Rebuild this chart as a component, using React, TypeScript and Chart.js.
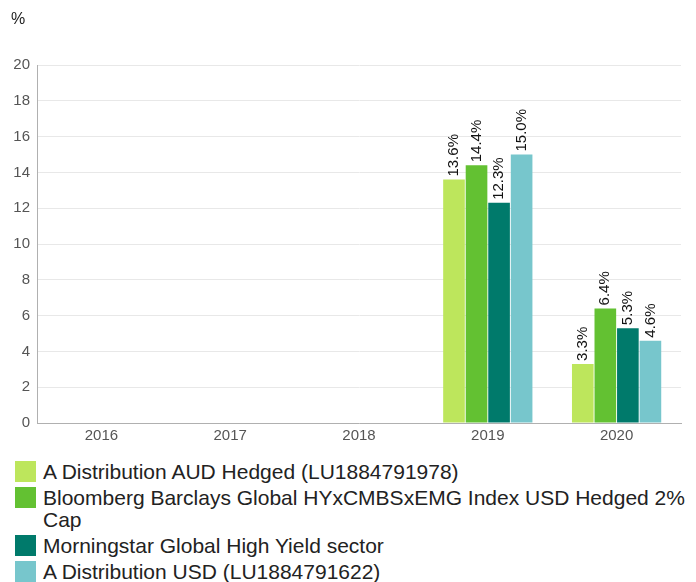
import React, { useEffect, useRef } from "react";
import { Chart, registerables } from "chart.js";

Chart.register(...registerables);

const categories = ["2016", "2017", "2018", "2019", "2020"];
const seriesNames = [
  "A Distribution AUD Hedged (LU1884791978)",
  "Bloomberg Barclays Global HYxCMBSxEMG Index USD Hedged 2% Cap",
  "Morningstar Global High Yield sector",
  "A Distribution USD (LU1884791622)",
];
const audHedged = [null, null, null, 13.6, 3.3];
const bloomberg = [null, null, null, 14.4, 6.4];
const morningstar = [null, null, null, 12.3, 5.3];
const usdDist = [null, null, null, 15.0, 4.6];
const colors = ["#bde65c", "#63c132", "#007a6b", "#77c6cc"];
const yTicks = [0, 2, 4, 6, 8, 10, 12, 14, 16, 18, 20];

const FONT = "'Liberation Sans', Arial, sans-serif";

const labelPlugin = {
  id: "barLabels",
  afterDatasetsDraw(chart: any) {
    const ctx = chart.ctx;
    ctx.save();
    ctx.font = `15px ${FONT}`;
    ctx.fillStyle = "#111";
    ctx.textAlign = "left";
    ctx.textBaseline = "middle";
    chart.data.datasets.forEach((ds: any, i: number) => {
      const meta = chart.getDatasetMeta(i);
      meta.data.forEach((bar: any, j: number) => {
        const v = ds.data[j];
        if (v === null || v === undefined) return;
        ctx.save();
        ctx.translate(bar.x, bar.y - 3);
        ctx.rotate(-Math.PI / 2);
        ctx.fillText(v.toFixed(1) + "%", 0, 0);
        ctx.restore();
      });
    });
    // % unit label
    ctx.font = `16px ${FONT}`;
    ctx.fillStyle = "#222";
    ctx.textBaseline = "middle";
    ctx.fillText("%", 11, 20);
    ctx.restore();
  },
};

export default function App() {
  const ref = useRef<HTMLCanvasElement>(null);
  useEffect(() => {
    const data = [audHedged, bloomberg, morningstar, usdDist];
    const chart = new Chart(ref.current!, {
      type: "bar",
      data: {
        labels: categories,
        datasets: data.map((d, i) => ({
          label: seriesNames[i],
          data: d as any,
          backgroundColor: colors[i],
          borderWidth: 0,
          categoryPercentage: 0.7,
          barPercentage: 0.96,
        })),
      },
      options: {
        animation: false,
        responsive: false,
        maintainAspectRatio: false,
        layout: { padding: { top: 65, right: 15, left: 0, bottom: 0 } },
        plugins: {
          legend: { display: false },
          tooltip: { enabled: false },
          title: { display: false },
        },
        scales: {
          x: {
            grid: { display: false, drawTicks: false },
            border: { display: true, color: "#b0b0b0" },
            ticks: { color: "#555", font: { size: 15, family: FONT }, padding: 4 },
            afterFit(scale: any) {
              scale.height = 27;
            },
          },
          y: {
            min: 0,
            max: 20,
            afterBuildTicks(scale: any) {
              scale.ticks = yTicks.map((v) => ({ value: v }));
            },
            grid: { color: "#e8e8e8", drawTicks: false },
            border: { display: true, color: "#b0b0b0" },
            ticks: { color: "#555", font: { size: 15, family: FONT }, padding: 7 },
            afterFit(scale: any) {
              scale.width = 37;
            },
          },
        },
      },
      plugins: [labelPlugin],
    });
    return () => chart.destroy();
  }, []);

  return (
    <div style={{ position: "absolute", left: 0, top: 0, width: 696, height: 582, background: "#fff", fontFamily: FONT }}>
      <canvas ref={ref} width={696} height={450} style={{ display: "block", width: 696, height: 450 }} />
      <div style={{ position: "absolute", left: 15, top: 461, width: 681 }}>
        {seriesNames.map((name, i) => (
          <div key={i} style={{ display: "flex", alignItems: "flex-start", marginBottom: 4 }}>
            <div style={{ width: 21, height: 21, background: colors[i], flex: "0 0 21px" }} />
            <div style={{ marginLeft: 7, fontSize: 21, lineHeight: "22px", color: "#222" }}>{name}</div>
          </div>
        ))}
      </div>
    </div>
  );
}
